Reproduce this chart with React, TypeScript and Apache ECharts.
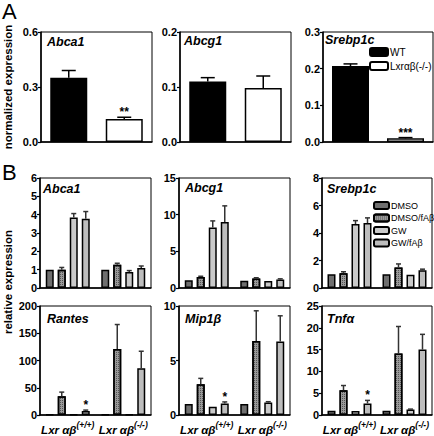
import React, { useEffect, useRef } from 'react';
import * as echarts from 'echarts';

// ---------- Panel A data ----------
const genotypeNamesA = ['WT', 'Lxrαβ(-/-)'];
const abca1A = [0.35, 0.125];
const abca1AErr = [0.39, 0.135];
const abcg1A = [0.11, 0.098];
const abcg1AErr = [0.117, 0.12];
const srebp1cA = [0.207, 0.01];
const srebp1cAErr = [0.213, 0.012];
const starsA_abca1 = ['', '**'];
const starsA_abcg1 = ['', ''];
const starsA_srebp1c = ['', '***'];

// ---------- Panel B data ----------
const treatments = ['DMSO', 'DMSO/fAβ', 'GW', 'GW/fAβ'];
const genotypesB = ['Lxrαβ(+/+)', 'Lxrαβ(-/-)'];

const abca1WT = [1.0, 1.0, 3.85, 3.78];
const abca1WTErr = [null, 1.12, 4.06, 4.17];
const abca1KO = [1.0, 1.27, 0.87, 1.09];
const abca1KOErr = [null, 1.35, 0.95, 1.2];

const abcg1WT = [1.05, 1.5, 8.25, 9.0];
const abcg1WTErr = [null, 1.6, 9.15, 11.2];
const abcg1KO = [1.0, 1.3, 0.95, 1.15];
const abcg1KOErr = [null, 1.4, null, 1.25];

const srebp1cWT = [1.0, 1.08, 4.65, 4.72];
const srebp1cWTErr = [null, 1.18, 4.9, 5.1];
const srebp1cKO = [1.0, 1.5, 0.97, 1.3];
const srebp1cKOErr = [null, 1.75, null, 1.37];

const rantesWT = [1, 34.5, 1, 7.3];
const rantesWTErr = [null, 42, null, 9];
const rantesKO = [1, 121, 1, 86];
const rantesKOErr = [null, 166, null, 117];

const mip1bWT = [1.0, 2.82, 0.75, 1.05];
const mip1bWTErr = [null, 3.36, null, 1.2];
const mip1bKO = [1.0, 6.8, 1.15, 6.75];
const mip1bKOErr = [null, 9.56, 1.22, 9.1];

const tnfaWT = [1.0, 5.7, 0.9, 2.65];
const tnfaWTErr = [null, 6.76, null, 3.35];
const tnfaKO = [1.0, 14.1, 1.25, 15.0];
const tnfaKOErr = [null, 20.3, 1.35, 18.5];

const starsWT_bottom = ['', '', '', '*'];

const FONT = '"Liberation Sans", Arial, Helvetica, sans-serif';

const treatmentStyles: any[] = [
  { color: '#6f6f6f', borderColor: '#000', borderWidth: 1.5 },
  {
    color: '#9a9a9a', borderColor: '#000', borderWidth: 1.5,
    decal: { symbol: 'rect', symbolSize: 1, dashArrayX: [1, 1], dashArrayY: [1, 1], color: '#555555', rotation: 0 },
  },
  { color: '#cacaca', borderColor: '#000', borderWidth: 1.5 },
  { color: '#bdbdbd', borderColor: '#000', borderWidth: 1.5 },
];

type Item = { cat: number; v: number; e: number | null; off: number; star: string };

function errSeries(k: number, items: Item[], capW: number, color: string) {
  return {
    type: 'custom',
    xAxisIndex: k,
    yAxisIndex: k,
    z: 5,
    silent: true,
    itemStyle: { color: '#000' },
    data: items.map((it) => [it.cat, it.v]),
    renderItem: (params: any, api: any) => {
      const it = items[params.dataIndex];
      const p0 = api.coord([it.cat, it.v]);
      const x = p0[0] + it.off;
      let topY = p0[1];
      const children: any[] = [];
      if (it.e != null) {
        const p1 = api.coord([it.cat, it.e]);
        topY = p1[1];
        children.push({ type: 'line', shape: { x1: x, y1: p0[1], x2: x, y2: p1[1] }, style: { stroke: color, lineWidth: 1.5 } });
        children.push({ type: 'line', shape: { x1: x - capW / 2, y1: p1[1], x2: x + capW / 2, y2: p1[1] }, style: { stroke: color, lineWidth: 1.5 } });
      }
      if (it.star) {
        children.push({
          type: 'text', x, y: topY + 1,
          style: { text: it.star, align: 'center', verticalAlign: 'bottom', font: `bold 12px ${FONT}`, fill: '#000', textFill: '#000', opacity: 1 },
        });
      }
      return { type: 'group', children };
    },
  };
}

const cols = [40, 179, 322];
const widths = [111, 111, 110];
const rowsTop = [32, 178, 306];
const H = 110;

export default function App() {
  const ref = useRef<HTMLDivElement>(null);
  useEffect(() => {
    if (!ref.current) return;
    const chart = echarts.init(ref.current, undefined, { renderer: 'svg' });

    const grids: any[] = [];
    const xAxes: any[] = [];
    const yAxes: any[] = [];
    const series: any[] = [];

    const yCfg = [
      { min: 0, max: 0.6, interval: 0.3, dec: 1 },
      { min: 0, max: 0.2, interval: 0.1, dec: 1 },
      { min: 0, max: 0.3, interval: 0.1, dec: 1 },
      { min: 0, max: 6, interval: 1, dec: 0 },
      { min: 0, max: 15, interval: 5, dec: 0 },
      { min: 0, max: 8, interval: 2, dec: 0 },
      { min: 0, max: 200, interval: 50, dec: 0 },
      { min: 0, max: 10, interval: 5, dec: 0 },
      { min: 0, max: 25, interval: 5, dec: 0 },
    ];

    for (let r = 0; r < 3; r++) {
      for (let c = 0; c < 3; c++) {
        const k = r * 3 + c;
        grids.push({
          left: cols[c] + (r === 0 ? 1 : 0), top: rowsTop[r], width: widths[c], height: H,
          show: true, borderColor: '#000', borderWidth: 1, backgroundColor: 'transparent',
        });
        const isBottom = r === 2;
        xAxes.push({
          type: 'category', gridIndex: k,
          data: r === 0 ? genotypeNamesA : genotypesB,
          axisLine: { show: true, lineStyle: { color: '#000', width: 1.5 } },
          axisTick: { show: false },
          axisLabel: isBottom
            ? {
                show: true, margin: 5, interval: 0,
                formatter: (v: string) => (v === genotypesB[0] ? '{a|Lxr αβ}{s|(+/+)}' : '{a|Lxr αβ}{s|(-/-)}'),
                rich: {
                  a: { fontFamily: FONT, fontStyle: 'italic', fontWeight: 'bold', fontSize: 11.5, color: '#000', lineHeight: 16, verticalAlign: 'bottom' },
                  s: { fontFamily: FONT, fontStyle: 'italic', fontWeight: 'bold', fontSize: 8.5, color: '#000', lineHeight: 16, verticalAlign: 'top' },
                },
              }
            : { show: false },
          splitLine: { show: false },
        });
        const yc = yCfg[k];
        yAxes.push({
          type: 'value', gridIndex: k, min: yc.min, max: yc.max, interval: yc.interval,
          axisLine: { show: true, lineStyle: { color: '#000', width: 1.5 } },
          axisTick: { show: true, length: 3, lineStyle: { color: '#000', width: 1.2 } },
          axisLabel: {
            margin: 3, color: '#000', fontFamily: FONT, fontWeight: 'bold', fontSize: 11,
            formatter: (v: number) => v.toFixed(yc.dec),
          },
          splitLine: { show: false },
        });
      }
    }

    // Panel A
    const aSets = [
      [abca1A, abca1AErr, starsA_abca1],
      [abcg1A, abcg1AErr, starsA_abcg1],
      [srebp1cA, srebp1cAErr, starsA_srebp1c],
    ] as any[];
    aSets.forEach(([vals, errs, stars], k) => {
      series.push({
        type: 'bar', name: genotypeNamesA[0], xAxisIndex: k, yAxisIndex: k,
        data: [vals[0], '-'], barWidth: 37, barGap: '-100%',
        itemStyle: { color: '#000', borderColor: '#000', borderWidth: 1.5 },
      });
      series.push({
        type: 'bar', name: genotypeNamesA[1], xAxisIndex: k, yAxisIndex: k,
        data: ['-', vals[1]], barWidth: 37, barGap: '-100%',
        itemStyle: { color: '#fff', borderColor: '#000', borderWidth: 1.5 },
      });
      const items: Item[] = [0, 1].map((i) => ({ cat: i, v: vals[i], e: errs[i], off: 0, star: stars[i] }));
      series.push(errSeries(k, items, 14, '#000'));
    });

    // Panel B
    const bSets = [
      [abca1WT, abca1WTErr, abca1KO, abca1KOErr, null],
      [abcg1WT, abcg1WTErr, abcg1KO, abcg1KOErr, null],
      [srebp1cWT, srebp1cWTErr, srebp1cKO, srebp1cKOErr, null],
      [rantesWT, rantesWTErr, rantesKO, rantesKOErr, starsWT_bottom],
      [mip1bWT, mip1bWTErr, mip1bKO, mip1bKOErr, starsWT_bottom],
      [tnfaWT, tnfaWTErr, tnfaKO, tnfaKOErr, starsWT_bottom],
    ] as any[];
    bSets.forEach(([wt, wtE, ko, koE, stars], j) => {
      const k = 3 + j;
      const items: Item[] = [];
      treatments.forEach((t, i) => {
        series.push({
          type: 'bar', name: t, xAxisIndex: k, yAxisIndex: k,
          data: [wt[i], ko[i]], barWidth: 8, barGap: '50%',
          itemStyle: treatmentStyles[i],
        });
        const off = (i - 1.5) * 12;
        items.push({ cat: 0, v: wt[i], e: wtE[i], off, star: stars ? stars[i] : '' });
        items.push({ cat: 1, v: ko[i], e: koE[i], off, star: '' });
      });
      series.push(errSeries(k, items, 5, '#333'));
    });

    const titles = [
      ['Abca1', 47, 35.5], ['Abcg1', 184, 34.5], ['Srebp1c', 325, 33.5],
      ['Abca1', 43, 182.5], ['Abcg1', 185, 181.5], ['Srebp1c', 327, 182.5],
      ['Rantes', 47, 312.5], ['Mip1β', 185, 312.5], ['Tnfα', 327, 312.5],
    ] as any[];

    const graphic: any[] = titles.map(([t, x, y]) => ({
      type: 'text', x, y, silent: true,
      style: { text: t, font: `italic bold 12.5px ${FONT}`, fill: '#000', verticalAlign: 'top' },
    }));
    graphic.push({ type: 'text', x: 2, y: 0, style: { text: 'A', font: `22px ${FONT}`, fill: '#000', verticalAlign: 'top' } });
    graphic.push({ type: 'text', x: 2, y: 161, style: { text: 'B', font: `22px ${FONT}`, fill: '#000', verticalAlign: 'top' } });
    graphic.push({
      type: 'text', x: 8, y: 87, rotation: Math.PI / 2,
      style: { text: 'normalized expression', font: `bold 11.5px ${FONT}`, fill: '#000', align: 'center', verticalAlign: 'middle' },
    });
    graphic.push({
      type: 'text', x: 8, y: 282, rotation: Math.PI / 2,
      style: { text: 'relative expression', font: `bold 11.5px ${FONT}`, fill: '#000', align: 'center', verticalAlign: 'middle' },
    });

    chart.setOption({
      animation: false,
      backgroundColor: '#fff',
      grid: grids,
      xAxis: xAxes,
      yAxis: yAxes,
      series,
      graphic,
      legend: [
        {
          data: genotypeNamesA, orient: 'vertical', left: 369, top: 47,
          itemWidth: 18, itemHeight: 8, itemGap: 4, padding: 0,
          textStyle: { fontFamily: FONT, fontSize: 10, color: '#000', padding: [0, 0, 0, -3] },
          selectedMode: false,
        },
        {
          data: treatments, orient: 'vertical', left: 373, top: 200,
          itemWidth: 15, itemHeight: 7, itemGap: 1.5, padding: 0,
          textStyle: { fontFamily: FONT, fontSize: 9, color: '#000', lineHeight: 11, padding: [0, 0, 0, -3] },
          selectedMode: false,
        },
      ],
    });
    return () => chart.dispose();
  }, []);
  return <div ref={ref} style={{ position: 'fixed', left: 0, top: 0, width: 434, height: 436, background: '#fff' }} />;
}
